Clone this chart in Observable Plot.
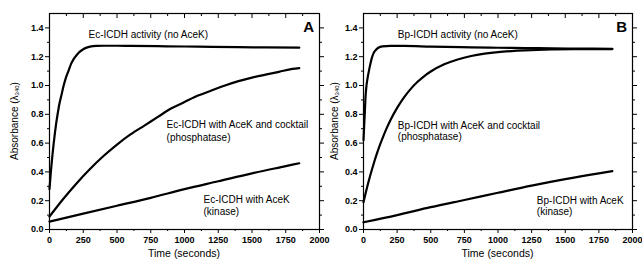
<!DOCTYPE html>
<html><head><meta charset="utf-8">
<script src="https://cdn.jsdelivr.net/npm/d3@7"></script>
<script src="https://cdn.jsdelivr.net/npm/@observablehq/plot@0.6"></script>
<style>
html,body{margin:0;padding:0;background:#fff;}
#wrap{display:flex;width:642px;height:262px;overflow:hidden;background:#fff;}
svg [aria-label="x-axis tick label"], svg [aria-label="y-axis tick label"]{font-weight:bold;}
</style></head><body><div id="wrap"></div>
<script>
// ---- tick values ----
const xTicks = [0, 250, 500, 750, 1000, 1250, 1500, 1750, 2000];
const xMinor = [125, 375, 625, 875, 1125, 1375, 1625, 1875];
const yTicks = [0, 0.2, 0.4, 0.6, 0.8, 1.0, 1.2, 1.4];
const yMinor = [0.1, 0.3, 0.5, 0.7, 0.9, 1.1, 1.3];

// ---- Panel A (Ec-ICDH) ----
const tA_act = [0, 10, 20, 30, 40, 50, 60, 75, 90, 105, 120, 140, 160, 180, 200, 225, 250, 275, 300, 350, 400, 500, 600, 800, 1000, 1200, 1400, 1600, 1850];
const aA_act = [0.28, 0.40, 0.50, 0.59, 0.67, 0.74, 0.80, 0.88, 0.94, 1.00, 1.05, 1.10, 1.15, 1.185, 1.21, 1.235, 1.252, 1.263, 1.270, 1.275, 1.276, 1.276, 1.275, 1.273, 1.271, 1.268, 1.266, 1.265, 1.263];
const tA_pho = [0, 100, 200, 300, 400, 500, 600, 700, 800, 900, 1000, 1100, 1200, 1300, 1400, 1500, 1600, 1700, 1800, 1850];
const aA_pho = [0.09, 0.21, 0.32, 0.42, 0.51, 0.59, 0.66, 0.72, 0.78, 0.84, 0.885, 0.93, 0.965, 1.00, 1.03, 1.055, 1.075, 1.095, 1.115, 1.12];
const tA_kin = [0, 250, 500, 750, 1000, 1250, 1500, 1750, 1850];
const aA_kin = [0.055, 0.11, 0.165, 0.22, 0.28, 0.335, 0.39, 0.44, 0.46];

// ---- Panel B (Bp-ICDH) ----
const tB_act = [0, 5, 10, 15, 20, 30, 40, 50, 60, 75, 90, 110, 140, 200, 300, 500, 800, 1000, 1200, 1400, 1600, 1850];
const aB_act = [0.62, 0.72, 0.82, 0.92, 0.98, 1.05, 1.10, 1.145, 1.185, 1.225, 1.245, 1.262, 1.272, 1.275, 1.275, 1.270, 1.265, 1.262, 1.260, 1.258, 1.256, 1.255];
const tB_pho = [0, 25, 50, 75, 100, 125, 150, 175, 200, 250, 300, 350, 400, 450, 500, 600, 700, 800, 900, 1000, 1100, 1200, 1400, 1600, 1850];
const aB_pho = [0.19, 0.287, 0.375, 0.455, 0.528, 0.594, 0.654, 0.709, 0.759, 0.845, 0.916, 0.975, 1.024, 1.064, 1.097, 1.147, 1.181, 1.205, 1.221, 1.232, 1.239, 1.244, 1.250, 1.252, 1.253];
const tB_kin = [0, 250, 500, 750, 1000, 1250, 1500, 1750, 1850];
const aB_kin = [0.05, 0.10, 0.155, 0.205, 0.255, 0.305, 0.35, 0.39, 0.405];

const FONT = "'Liberation Sans', Arial, sans-serif";
const rows = (ts, as) => ts.map((t, i) => ({t, a: as[i]}));

function panel(o) {
  const H = 262, mt = 13, mb = 33;
  const series = o.series.map(s => rows(s[0], s[1]));
  const plot = Plot.plot({
    width: o.width, height: H,
    marginLeft: o.ml, marginRight: o.mr, marginTop: mt, marginBottom: mb,
    style: {fontFamily: FONT, fontSize: "9px", color: "#000", background: "transparent", overflow: "visible"},
    x: {domain: [0, 2000]},
    y: {domain: [0, 1.5]},
    marks: [
      Plot.frame({stroke: "#000", strokeWidth: 1.2}),
      Plot.axisX({anchor: "bottom", ticks: xTicks, tickSize: 4, tickPadding: 3, tickFormat: d => String(d), label: null}),
      Plot.axisX({anchor: "bottom", ticks: xMinor, tickSize: 2, tickFormat: () => "", label: null}),
      Plot.axisX({anchor: "top", ticks: xTicks, tickSize: 4, dy: 4, tickFormat: () => "", label: null}),
      Plot.axisX({anchor: "top", ticks: xMinor, tickSize: 2, dy: 2, tickFormat: () => "", label: null}),
      Plot.axisY({anchor: "left", ticks: yTicks, tickSize: 4, tickPadding: 2, tickFormat: d3.format(".1f"), label: null}),
      Plot.axisY({anchor: "left", ticks: yMinor, tickSize: 2, tickFormat: () => "", label: null}),
      Plot.axisY({anchor: "right", ticks: yTicks, tickSize: 4, tickFormat: () => "", label: null}),
      Plot.axisY({anchor: "right", ticks: yMinor, tickSize: 2, tickFormat: () => "", label: null}),
      ...series.map(d => Plot.line(d, {x: "t", y: "a", stroke: "#000", strokeWidth: 2.2, curve: "monotone-x"})),
      Plot.text(o.notes, {x: "x", y: "y", text: "text", textAnchor: "start", fontSize: 10, fill: "#000"}),
      Plot.text([o.letter], {x: () => 1960, y: () => 1.405, text: d => d, textAnchor: "end", fontSize: 15, fontWeight: "bold", fill: "#000"})
    ]
  });
  const svg = d3.select(plot);
  const cy = mt + (H - mt - mb) / 2;
  const yl = svg.append("text")
    .attr("transform", `translate(${o.ylx},${cy}) rotate(-90)`)
    .attr("text-anchor", "middle").attr("dominant-baseline", "middle")
    .attr("font-family", FONT).attr("font-size", 10).attr("fill", "#000");
  yl.append("tspan").text("Absorbance (");
  yl.append("tspan").text("λ");
  yl.append("tspan").attr("font-size", 6).attr("dy", 2).text("340");
  yl.append("tspan").attr("dy", -2).text(")");
  svg.append("text")
    .attr("x", o.ml + (o.width - o.ml - o.mr) / 2).attr("y", H - 8)
    .attr("text-anchor", "middle").attr("dominant-baseline", "middle")
    .attr("font-family", FONT).attr("font-size", 10.5).attr("fill", "#000")
    .text("Time (seconds)");
  return plot;
}

const wrap = document.getElementById("wrap");
wrap.appendChild(panel({
  width: 322, ml: 49, mr: 3, ylx: 15, letter: "A",
  series: [[tA_act, aA_act], [tA_pho, aA_pho], [tA_kin, aA_kin]],
  notes: [
    {x: 289, y: 1.352, text: "Ec-ICDH activity (no AceK)"},
    {x: 867, y: 0.725, text: "Ec-ICDH with AceK and cocktail"},
    {x: 867, y: 0.639, text: "(phosphatase)"},
    {x: 1141, y: 0.203, text: "Ec-ICDH with AceK"},
    {x: 1141, y: 0.12, text: "(kinase)"}
  ]
}));
wrap.appendChild(panel({
  width: 320, ml: 41, mr: 10, ylx: 13, letter: "B",
  series: [[tB_act, aB_act], [tB_pho, aB_pho], [tB_kin, aB_kin]],
  notes: [
    {x: 255, y: 1.352, text: "Bp-ICDH activity (no AceK)"},
    {x: 255, y: 0.718, text: "Bp-ICDH with AceK and cocktail"},
    {x: 255, y: 0.644, text: "(phosphatase)"},
    {x: 1289, y: 0.20, text: "Bp-ICDH with AceK"},
    {x: 1289, y: 0.12, text: "(kinase)"}
  ]
}));
</script></body></html>
